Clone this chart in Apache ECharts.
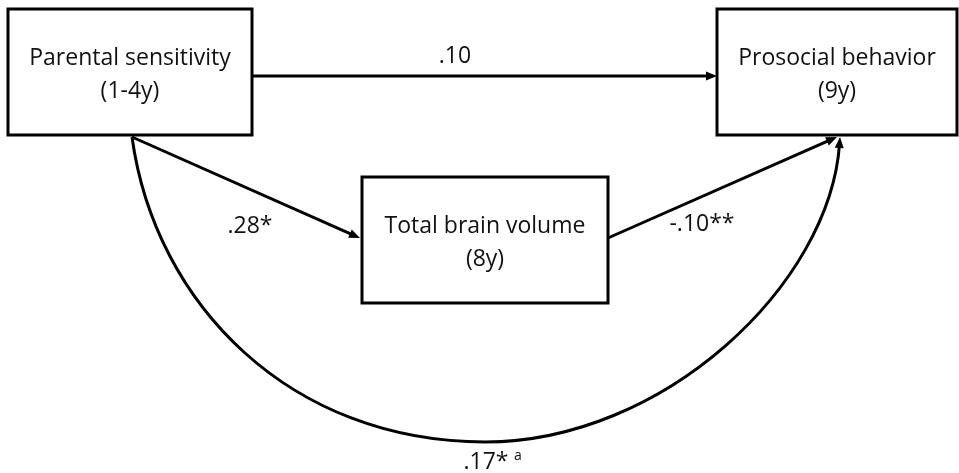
<!DOCTYPE html>
<html><head><meta charset="utf-8">
<script src="https://cdn.jsdelivr.net/npm/echarts@6/dist/echarts.min.js"></script>
<style>html,body{margin:0;padding:0;background:#fff}#c{width:959px;height:473px}</style>
</head><body><div id="c"></div>
<script>
// ---- diagram content (data) ----
const nodeNames = ['Parental sensitivity', 'Total brain volume', 'Prosocial behavior'];
const nodeAges = ['(1-4y)', '(8y)', '(9y)'];
const pathFrom = [0, 0, 1, 0];
const pathTo = [2, 1, 2, 2];
const pathCoefficients = ['.10', '.28*', '-.10**', '.17*'];
const pathNotes = ['', '', '', 'a'];

// ---- layout (axis units on a 959 x 473 canvas) ----
const boxLayout = [[8, 9, 252, 135], [362, 177, 608, 303], [717, 9, 957, 135]];
// each path: start point, then segments: [end] for straight, [cp1, cp2, end] for cubic
const pathLayout = [
  { start: [252, 76], segs: [[[717, 76]]], label: [455, 56] },
  { start: [132, 137], segs: [[[360, 238]]], label: [250, 226] },
  { start: [608, 238], segs: [[[837, 137]]], label: [702, 224] },
  { start: [132, 137], segs: [[[155, 305], [291, 442], [485, 442]], [[663, 442], [830, 285], [840, 137]]], label: [486, 462], note: [514, 456] }
];
const FONT = '"Open Sans", sans-serif';
const FS = 23;
const INK = '#000';
const TXT = '#111';

const chart = echarts.init(document.getElementById('c'), null, { renderer: 'canvas' });

function renderBox(params, api) {
  const i = api.value(0);
  const b = boxLayout[i];
  const p0 = api.coord([b[0], b[1]]);
  const p1 = api.coord([b[2], b[3]]);
  const cx = (p0[0] + p1[0]) / 2, cy = (p0[1] + p1[1]) / 2;
  return {
    type: 'group',
    children: [
      { type: 'rect', shape: { x: p0[0], y: p0[1], width: p1[0] - p0[0], height: p1[1] - p0[1] },
        style: { fill: '#fff', stroke: INK, lineWidth: 3 } },
      { type: 'text', style: { text: nodeNames[i], x: cx, y: cy - 14, align: 'center', verticalAlign: 'middle', font: FS + 'px ' + FONT, fill: TXT } },
      { type: 'text', style: { text: nodeAges[i], x: cx, y: cy + 19, align: 'center', verticalAlign: 'middle', font: FS + 'px ' + FONT, fill: TXT } }
    ]
  };
}

function arrowHead(tip, from, L, W) {
  let dx = tip[0] - from[0], dy = tip[1] - from[1];
  const len = Math.hypot(dx, dy); dx /= len; dy /= len;
  const bx = tip[0] - dx * L, by = tip[1] - dy * L;
  return { pts: [tip, [bx - dy * W / 2, by + dx * W / 2], [bx + dy * W / 2, by - dx * W / 2]], base: [tip[0] - dx * L * 0.6, tip[1] - dy * L * 0.6] };
}

function renderPath(params, api) {
  const i = api.value(0);
  const lay = pathLayout[i];
  const children = [];
  let cur = api.coord(lay.start);
  const nSeg = lay.segs.length;
  lay.segs.forEach((seg, k) => {
    const pts = seg.map(p => api.coord(p));
    const last = k === nSeg - 1;
    let end = pts[pts.length - 1];
    const prev = pts.length === 1 ? cur : pts[1];
    let head = null;
    if (last) {
      head = arrowHead(end, prev, 11, 9);
      end = head.base;
    }
    if (pts.length === 1) {
      children.push({ type: 'line', shape: { x1: cur[0], y1: cur[1], x2: end[0], y2: end[1] }, style: { stroke: INK, lineWidth: 3 } });
    } else {
      children.push({ type: 'bezierCurve', shape: { x1: cur[0], y1: cur[1], cpx1: pts[0][0], cpy1: pts[0][1], cpx2: pts[1][0], cpy2: pts[1][1], x2: end[0], y2: end[1] }, style: { stroke: INK, lineWidth: 3, fill: null } });
    }
    if (head) children.push({ type: 'polygon', shape: { points: head.pts }, style: { fill: INK } });
    cur = pts[pts.length - 1];
  });
  const lp = api.coord(lay.label);
  children.push({ type: 'text', style: { text: pathCoefficients[i], x: lp[0], y: lp[1], align: 'center', verticalAlign: 'middle', font: FS + 'px ' + FONT, fill: TXT } });
  if (pathNotes[i] && lay.note) {
    const np = api.coord(lay.note);
    children.push({ type: 'text', style: { text: pathNotes[i], x: np[0], y: np[1], align: 'left', verticalAlign: 'middle', font: '14px ' + FONT, fill: TXT } });
  }
  return { type: 'group', children };
}

chart.setOption({
  animation: false,
  backgroundColor: '#fff',
  grid: { left: 0, right: 0, top: 0, bottom: 0 },
  xAxis: { type: 'value', min: 0, max: 959, show: false },
  yAxis: { type: 'value', min: 0, max: 473, inverse: true, show: false },
  series: [
    { type: 'custom', name: 'paths', clip: false, renderItem: renderPath, data: pathCoefficients.map((c, i) => [i, 0]), z: 1 },
    { type: 'custom', name: 'variables', clip: false, renderItem: renderBox, data: nodeNames.map((n, i) => [i, 0]), z: 2 }
  ]
});
</script></body></html>
